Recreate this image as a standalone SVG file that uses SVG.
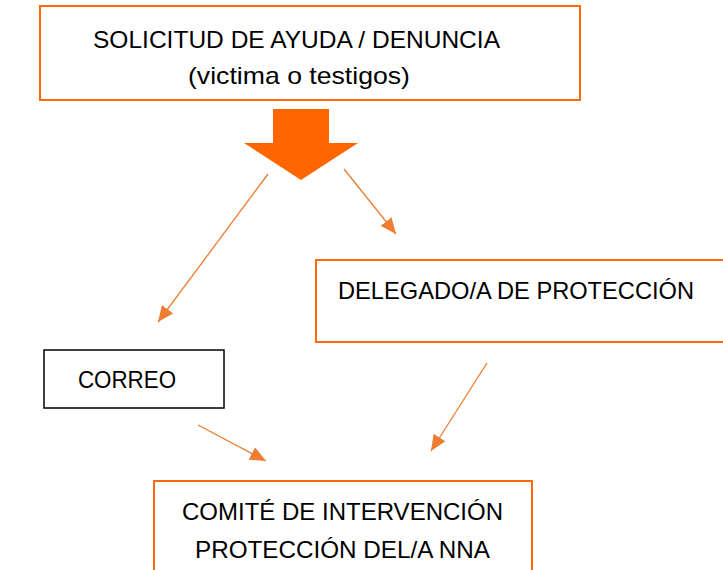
<svg xmlns="http://www.w3.org/2000/svg" width="723" height="570" viewBox="0 0 723 570">
<style>
.box{fill:#fff;stroke:#ff6a0a;stroke-width:2}
.boxk{fill:#fff;stroke:#000;stroke-width:1.5}
.t{font-family:"Liberation Sans",Arial,sans-serif;font-size:24px;fill:#000}
.c{stroke:#ed7d31;stroke-width:1.3;fill:none;marker-end:url(#ah)}
</style>
<defs>
<marker id="ah" markerUnits="userSpaceOnUse" markerWidth="18" markerHeight="14" refX="16" refY="7" orient="auto" viewBox="0 0 18 14">
<path d="M0,0 L16,7 L0,14 Z" fill="#ed7d31"/>
</marker>
</defs>
<rect width="723" height="570" fill="#fff"/>
<g id="solicitud">
<rect class="box" x="40" y="6" width="540" height="94"/>
<text class="t" x="296.5" y="48" text-anchor="middle" textLength="407" lengthAdjust="spacingAndGlyphs">SOLICITUD DE AYUDA / DENUNCIA</text>
<text class="t" x="299" y="84" text-anchor="middle" textLength="222" lengthAdjust="spacingAndGlyphs">(victima o testigos)</text>
</g>
<g id="flecha">
<polygon points="273,109 329,109 329,143 358,143 301,180 244,143 273,143" fill="#ff6600"/>
</g>
<g id="delegado">
<rect class="box" x="316" y="260" width="420" height="82"/>
<text class="t" x="338" y="299" textLength="356" lengthAdjust="spacingAndGlyphs">DELEGADO/A DE PROTECCIÓN</text>
</g>
<g id="correo">
<rect class="boxk" x="44" y="350" width="180" height="58"/>
<text class="t" x="78" y="388" textLength="98" lengthAdjust="spacingAndGlyphs">CORREO</text>
</g>
<g id="comite">
<rect class="box" x="154" y="481" width="378" height="100"/>
<text class="t" x="342.5" y="520" text-anchor="middle" textLength="321" lengthAdjust="spacingAndGlyphs">COMITÉ DE INTERVENCIÓN</text>
<text class="t" x="342.5" y="558" text-anchor="middle" textLength="295" lengthAdjust="spacingAndGlyphs">PROTECCIÓN DEL/A NNA</text>
</g>
<g id="conectores">
<line class="c" x1="268" y1="174" x2="158" y2="322"/>
<line class="c" x1="344" y1="169" x2="396" y2="234"/>
<line class="c" x1="198" y1="425" x2="266" y2="461"/>
<line class="c" x1="487" y1="363" x2="431" y2="451"/>
</g>
</svg>
